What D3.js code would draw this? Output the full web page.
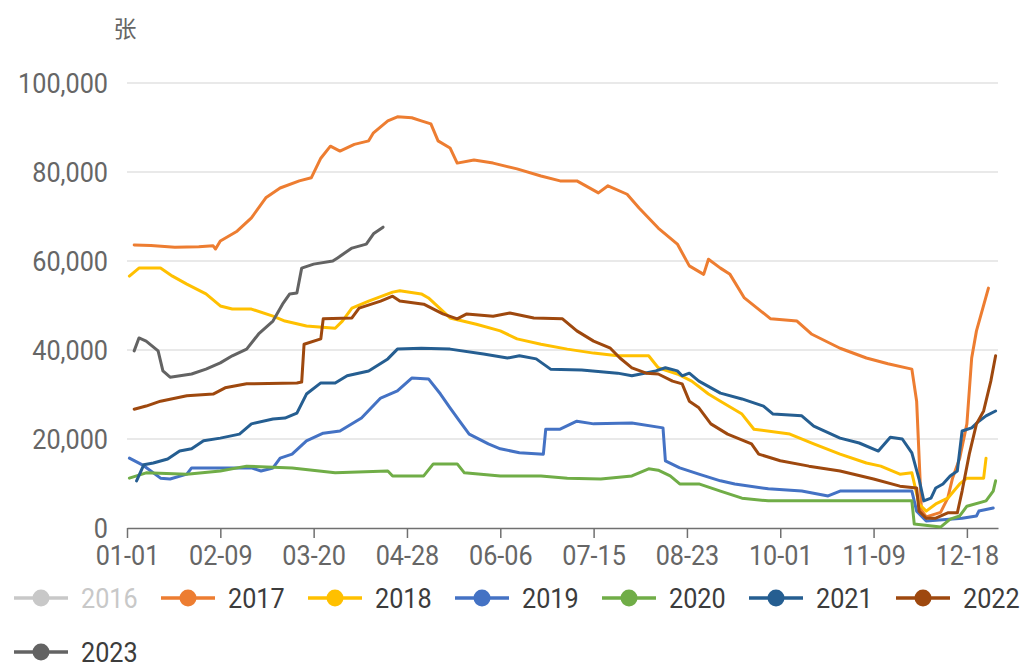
<!DOCTYPE html>
<html>
<head>
<meta charset="utf-8">
<script src="https://cdn.jsdelivr.net/npm/d3@7"></script>
<style>
  body { margin: 0; background: #fff; }
  text { font-family: Roboto, "Noto Sans", sans-serif; }
</style>
</head>
<body>
<div id="graph"></div>
<script>
// day of year (0 = 01-01), value in 张
const years = ["2016", "2017", "2018", "2019", "2020", "2021", "2022", "2023"];
const colors = ["#c8c8c8", "#ed7d31", "#ffc000", "#4472c4", "#70ad47", "#255e91", "#9e480e", "#636363"];
const tickDays = [0, 39, 78, 117, 156, 195, 234, 273, 312, 351];
const tickLabels = ["01-01", "02-09", "03-20", "04-28", "06-06", "07-15", "08-23", "10-01", "11-09", "12-18"];
const yTicks = [0, 20000, 40000, 60000, 80000, 100000];

const s2016 = [];
const s2017 = [[3,63600],[10,63500],[20,63100],[30,63200],[36,63400],[37,62700],[39,64500],[46,66700],[52,69700],[58,74200],[64,76400],[72,78000],[77,78700],[81,83100],[85,85800],[89,84700],[95,86200],[101,87000],[103,88800],[109,91500],[113,92400],[119,92200],[123,91500],[127,90800],[130,87000],[135,85400],[138,82000],[145,82700],[153,82000],[163,80700],[173,79100],[181,78000],[188,78000],[197,75300],[201,76900],[209,75000],[214,71900],[222,67400],[230,63800],[235,58900],[241,57000],[243,60400],[248,58400],[252,57000],[258,51700],[269,47000],[280,46500],[286,43600],[298,40400],[309,38200],[318,36900],[328,35700],[330,28500],[332,4000],[334,2500],[340,3500],[343,6700],[345,11200],[348,15700],[351,23400],[353,38200],[355,44300],[360,53900]];
const s2018 = [[1,56600],[5,58400],[14,58400],[19,56600],[25,54800],[33,52600],[39,49900],[44,49200],[52,49200],[61,47600],[66,46500],[75,45400],[87,44900],[90,46500],[94,49400],[101,51000],[111,53000],[114,53300],[123,52600],[126,51700],[135,47200],[146,45800],[156,44300],[163,42500],[173,41300],[184,40200],[195,39300],[205,38700],[218,38700],[222,36000],[230,34600],[236,33000],[243,30100],[248,28500],[257,25600],[262,22200],[277,21100],[287,18900],[298,16600],[309,14600],[315,13900],[323,12100],[328,12400],[331,5400],[334,3800],[338,5400],[343,6700],[348,9900],[351,11200],[358,11200],[359,15700]];
const s2019 = [[1,15700],[7,14000],[14,11200],[18,11000],[25,12100],[27,13500],[52,13500],[56,12800],[61,13500],[64,15700],[69,16600],[75,19600],[82,21300],[89,21800],[98,24700],[106,29200],[113,30800],[119,33700],[126,33500],[131,30100],[135,27000],[139,24000],[143,21100],[151,18900],[156,17800],[164,16900],[174,16600],[175,22200],[181,22200],[188,24000],[195,23400],[211,23600],[224,22500],[225,15100],[231,13500],[239,12100],[248,10600],[254,9900],[268,8800],[282,8300],[293,7200],[298,8300],[328,8300],[330,3800],[334,1600],[345,2000],[349,2200],[355,2700],[356,3800],[362,4500]];
const s2020 = [[1,11200],[8,12400],[25,12100],[39,12800],[50,13900],[69,13500],[87,12400],[109,12800],[111,11700],[124,11700],[128,14400],[138,14400],[141,12400],[156,11700],[173,11700],[184,11200],[198,11000],[211,11700],[218,13300],[222,13000],[227,11700],[231,9900],[239,9900],[248,8300],[257,6700],[268,6100],[328,6100],[329,900],[340,200],[344,2000],[348,2700],[351,4900],[359,6100],[362,8300],[363,10600]];
const s2021 = [[4,10600],[7,14200],[11,14600],[17,15500],[22,17300],[27,17800],[32,19600],[39,20200],[47,21100],[52,23400],[61,24500],[66,24700],[71,25800],[75,30100],[81,32600],[87,32600],[92,34200],[101,35300],[109,38000],[113,40200],[123,40400],[135,40200],[149,39100],[159,38200],[164,38700],[171,38000],[177,35700],[190,35500],[205,34800],[211,34200],[221,35300],[225,36000],[230,35300],[232,34200],[235,34800],[239,33000],[248,30300],[257,29000],[266,27400],[270,25600],[282,25200],[287,22900],[298,20200],[306,19100],[314,17300],[319,20400],[324,20000],[328,16900],[331,11000],[333,6100],[336,6700],[338,9000],[341,9900],[344,11700],[347,12800],[349,21800],[353,22500],[356,24000],[359,25200],[363,26300]];
const s2022 = [[3,26700],[8,27400],[14,28500],[25,29700],[36,30100],[41,31500],[50,32400],[71,32600],[73,32800],[74,41300],[81,42500],[82,47000],[94,47200],[97,49400],[106,51000],[111,52100],[114,51000],[124,50300],[132,48100],[138,47000],[142,48100],[153,47600],[160,48300],[170,47200],[182,47000],[188,44300],[195,42000],[202,40400],[206,38200],[211,36000],[217,34800],[222,34600],[228,33000],[232,32400],[235,28500],[239,27000],[244,23400],[251,21100],[261,18900],[264,16600],[273,15100],[285,13900],[298,12800],[312,11000],[323,9400],[330,9000],[331,3800],[334,2200],[338,2200],[343,3400],[347,3400],[349,8300],[352,16600],[355,23400],[358,26300],[361,33000],[363,38700]];
const s2023 = [[3,39800],[5,42700],[8,42000],[13,39800],[15,35300],[18,33900],[27,34600],[33,35700],[39,37100],[44,38700],[50,40200],[55,43600],[61,46500],[65,50300],[68,52600],[71,52800],[73,58400],[78,59300],[86,60000],[88,60700],[94,62900],[100,63800],[103,66100],[107,67600]];

const seriesList = [s2016, s2017, s2018, s2019, s2020, s2021, s2022, s2023];
const hidden = ["2016"];

const width = 1021, height = 666;
const SQUEEZE = 0.9;

let svg = d3.select("#graph")
    .append("svg")
    .attr("width", width)
    .attr("height", height);

let x = d3.scaleLinear().domain([0, 364]).range([127, 998]);
let y = d3.scaleLinear().domain([0, 100000]).range([528, 83]);

// gridlines
svg.append("g").selectAll("line")
    .data(yTicks.filter(d => d > 0))
    .join("line")
    .attr("x1", x(0))
    .attr("x2", x(364))
    .attr("y1", d => y(d))
    .attr("y2", d => y(d))
    .attr("stroke", "#e2e2e2")
    .attr("stroke-width", 1.5);

// y labels
svg.append("g").selectAll("text")
    .data(yTicks)
    .join("text")
    .attr("transform", d => `translate(108, ${y(d)}) scale(${SQUEEZE}, 1)`)
    .attr("dy", "0.36em")
    .style("text-anchor", "end")
    .style("font-size", "28px")
    .style("fill", "#666")
    .text(d => d3.format(",")(d));

// unit
svg.append("text")
    .attr("x", 125)
    .attr("y", 37)
    .style("text-anchor", "middle")
    .style("font-family", "'Noto Sans CJK SC', sans-serif")
    .style("font-size", "23px")
    .style("fill", "#666")
    .text("张");

// x axis
let xAxis = svg.append("g")
    .attr("transform", `translate(0, ${y(0)})`)
    .call(d3.axisBottom(x)
        .tickValues(tickDays)
        .tickFormat((d, i) => tickLabels[i])
        .tickSize(10)
        .tickSizeOuter(0)
        .tickPadding(7));
xAxis.select(".domain").attr("stroke", "#707070").attr("stroke-width", 1.5);
xAxis.selectAll(".tick line").attr("stroke", "#707070").attr("stroke-width", 1.5);
xAxis.selectAll(".tick text")
    .attr("transform", `scale(${SQUEEZE}, 1)`)
    .style("font-family", "Roboto, 'Noto Sans', sans-serif")
    .style("font-size", "28px")
    .style("fill", "#666");

// lines
let line = d3.line()
    .x(d => x(d[0]))
    .y(d => y(d[1]));

svg.append("g").selectAll("path")
    .data(years.map((yr, i) => ({year: yr, color: colors[i], values: seriesList[i]}))
        .filter(d => !hidden.includes(d.year) && d.values.length))
    .join("path")
    .attr("d", d => line(d.values))
    .attr("fill", "none")
    .attr("stroke", d => d.color)
    .attr("stroke-width", 3)
    .attr("stroke-linejoin", "round")
    .attr("stroke-linecap", "round");

// legend
let legend = svg.append("g");
years.forEach(function(yr, i) {
    let row = i < 7 ? 0 : 1;
    let col = i < 7 ? i : i - 7;
    let tx = 81 + col * 147;
    let cy = row == 0 ? 598 : 652;
    let c = hidden.includes(yr) ? "#c8c8c8" : colors[i];
    let g = legend.append("g");
    g.append("line")
        .attr("x1", tx - 67).attr("x2", tx - 13)
        .attr("y1", cy).attr("y2", cy)
        .attr("stroke", c).attr("stroke-width", 3.5);
    g.append("circle")
        .attr("cx", tx - 40).attr("cy", cy).attr("r", 8.5)
        .style("fill", c);
    g.append("text")
        .attr("transform", `translate(${tx}, ${cy}) scale(${SQUEEZE}, 1)`)
        .attr("dy", "0.36em")
        .style("font-size", "28px")
        .style("fill", hidden.includes(yr) ? "#c8c8c8" : "#3c3c3c")
        .text(yr);
});
</script>
</body>
</html>
